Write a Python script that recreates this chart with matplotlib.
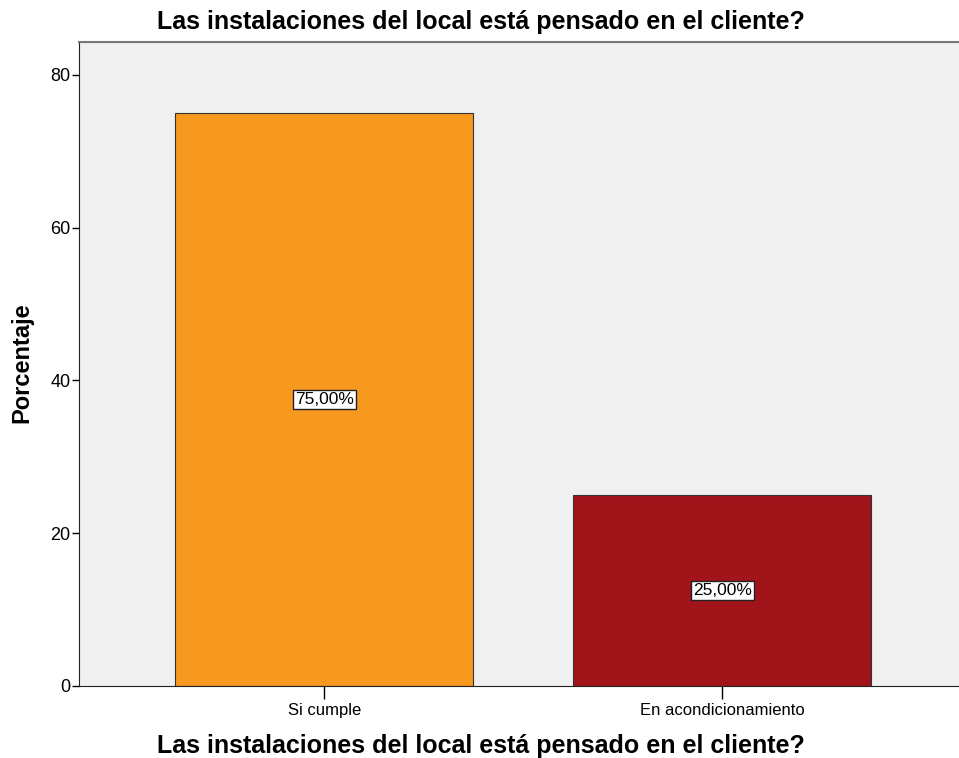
import matplotlib.pyplot as plt

categorias = ["Si cumple", "En acondicionamiento"]
porcentajes = [75.0, 25.0]
etiquetas = ["75,00%", "25,00%"]
colores = ["#F7991E", "#A1141A"]

plt.rcParams["font.family"] = ["Liberation Sans", "DejaVu Sans"]

fig = plt.figure(figsize=(9.59, 7.58), dpi=100)
ax = fig.add_axes([79 / 959, 72 / 758, 1 - 79 / 959, (686 - 42) / 758])
ax.set_facecolor("#F0F0F0")

pos = range(len(categorias))
ax.bar(pos, porcentajes, width=0.75, color=colores, edgecolor="#333333", linewidth=0.8)

for x, v, t in zip(pos, porcentajes, etiquetas):
    ax.text(x, v / 2, t, ha="center", va="center", fontsize=12.5,
            bbox=dict(boxstyle="square,pad=0.12", facecolor="white", edgecolor="#222222", linewidth=1))

ax.set_xlim(-0.616, 1.595)
ax.set_ylim(0, 84.3)
ax.set_yticks([0, 20, 40, 60, 80])
ax.set_xticks(list(pos))
ax.set_xticklabels(categorias, fontsize=12)
ax.tick_params(axis="y", labelsize=13, length=5, width=1, pad=1)
ax.tick_params(axis="x", length=9, width=1, pad=3)

ax.spines["right"].set_visible(False)
ax.spines["top"].set_color("#777777")
ax.spines["top"].set_linewidth(1.5)
ax.spines["left"].set_color("#222222")
ax.spines["bottom"].set_color("#222222")

fig.text(481 / 959, 1 - 22 / 758, "Las instalaciones del local está pensado en el cliente?",
         ha="center", va="center", fontsize=18, fontweight="bold")
fig.text(481 / 959, 1 - 746 / 758, "Las instalaciones del local está pensado en el cliente?",
         ha="center", va="center", fontsize=18, fontweight="bold")
fig.text(22 / 959, 1 - 363 / 758, "Porcentaje", rotation=90,
         ha="center", va="center", fontsize=17, fontweight="bold")

fig.savefig("out.png", dpi=100)
